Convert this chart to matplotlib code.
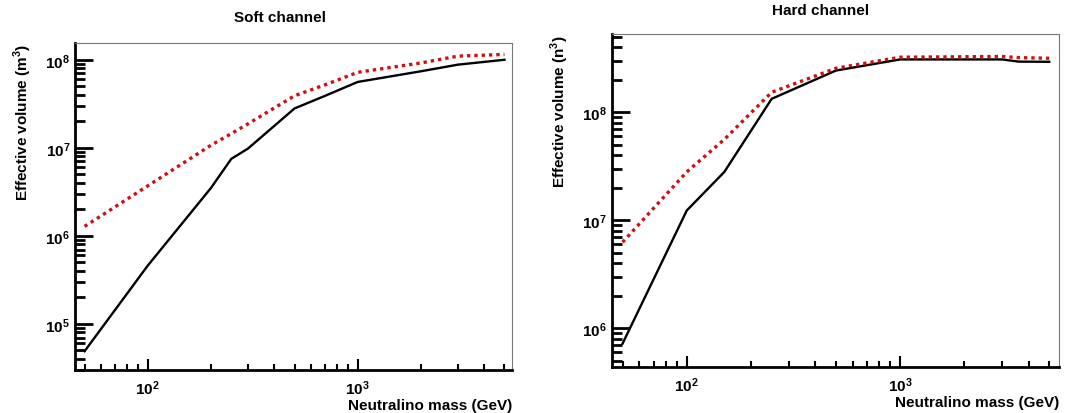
import matplotlib
matplotlib.use('Agg')
import matplotlib.pyplot as plt
from matplotlib.ticker import FuncFormatter, NullFormatter, LogLocator
import numpy as np

plt.rcParams['font.family'] = ['Liberation Sans', 'DejaVu Sans']
plt.rcParams['mathtext.fontset'] = 'custom'
plt.rcParams['mathtext.rm'] = 'Liberation Sans:bold'
plt.rcParams['mathtext.bf'] = 'Liberation Sans:bold'

# soft channel (GeV, m^3)
soft_mass = [50, 100, 200, 250, 300, 500, 700, 1000, 2000, 3000, 5000]
soft_black = [4.9e4, 4.6e5, 3.5e6, 7.5e6, 9.8e6, 2.8e7, 3.9e7, 5.6e7, 7.4e7, 8.8e7, 1.0e8]
soft_red = [1.28e6, 3.7e6, 1.07e7, 1.45e7, 1.87e7, 3.9e7, 5.2e7, 7.2e7, 9.2e7, 1.1e8, 1.15e8]

# hard channel
hard_mass = [50, 100, 150, 250, 500, 1000, 3000, 3600, 5000]
hard_black = [7.2e5, 1.23e7, 2.8e7, 1.33e8, 2.43e8, 3.08e8, 3.08e8, 2.94e8, 2.93e8]
hard_red = [6.25e6, 2.8e7, 5.6e7, 1.53e8, 2.55e8, 3.23e8, 3.28e8, 3.2e8, 3.16e8]


def style_axes(ax, xlim, ylim, ylabel):
    ax.set_xscale('log')
    ax.set_yscale('log')
    ax.set_xlim(*xlim)
    ax.set_ylim(*ylim)
    # ROOT look: heavy left/bottom, thin grey frame elsewhere
    ax.spines['left'].set_linewidth(2.0)
    ax.spines['bottom'].set_linewidth(2.0)
    for s in ('top', 'right'):
        ax.spines[s].set_linewidth(0.8)
        ax.spines[s].set_color('#777777')
    fmt = FuncFormatter(lambda v, p: r'$\mathbf{10^{%d}}$' % round(np.log10(v)))
    ax.xaxis.set_major_formatter(fmt)
    ax.yaxis.set_major_formatter(fmt)
    ax.xaxis.set_minor_formatter(NullFormatter())
    ax.yaxis.set_minor_formatter(NullFormatter())
    ax.yaxis.set_minor_locator(LogLocator(base=10, subs=np.arange(2, 10)))
    ax.xaxis.set_minor_locator(LogLocator(base=10, subs=np.arange(2, 10)))
    ax.tick_params(axis='both', which='both', direction='in', top=False, right=False,
                   labelsize=11, color='black')
    ax.tick_params(axis='y', which='major', length=13, width=2)
    ax.tick_params(axis='y', which='minor', length=7, width=2)
    ax.tick_params(axis='x', which='major', length=8, width=1.5, pad=6)
    ax.tick_params(axis='x', which='minor', length=4, width=1.5)
    ax.set_xlabel('Neutralino mass (GeV)', fontsize=11, fontweight='bold',
                  loc='right', labelpad=1)
    ax.set_ylabel(ylabel, fontsize=11, fontweight='bold', loc='top', labelpad=8)


fig = plt.figure(figsize=(10.74, 4.14), dpi=100)

ax1 = fig.add_axes([0.0698, 0.1039, 0.4069, 0.7898])
ax1.plot(soft_mass, soft_black, color='black', lw=1.7)
ax1.plot(soft_mass, soft_red, color='#d01010', lw=2.4, linestyle=(0, (1, 1.2)))
style_axes(ax1, (45, 5430), (3.0e4, 1.55e8), r'Effective volume (m$^{3}$)')

ax2 = fig.add_axes([0.5696, 0.1118, 0.4165, 0.8037])
ax2.plot(hard_mass, hard_black, color='black', lw=1.7)
ax2.plot(hard_mass, hard_red, color='#d01010', lw=2.4, linestyle=(0, (1, 1.2)))
style_axes(ax2, (44.5, 5560), (4.4e5, 5.3e8), r'Effective volume (n$^{3}$)')

# titles sit at different heights in the two panels
fig.text(280 / 1074, 1 - 18 / 414, 'Soft channel', ha='center', va='center',
         fontsize=11, fontweight='bold')
fig.text(821 / 1074, 1 - 11 / 414, 'Hard channel', ha='center', va='center',
         fontsize=11, fontweight='bold')

fig.savefig('out.png', dpi=100)
